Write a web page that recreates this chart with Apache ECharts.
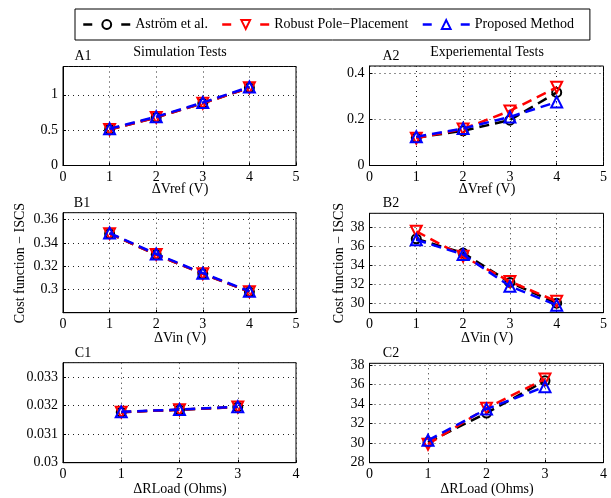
<!DOCTYPE html>
<html>
<head>
<meta charset="utf-8">
<script src="https://cdn.jsdelivr.net/npm/echarts@6/dist/echarts.min.js"></script>
<style>
  html, body { margin: 0; padding: 0; background: #fff; }
  #chart { width: 611px; height: 498px; }
</style>
</head>
<body>
<div id="chart"></div>
<script>
// Test conditions on the horizontal axes
const xVolt = [1, 2, 3, 4];
const xLoad = [1, 2, 3];

// A: reference voltage step
const a1Astrom   = [0.51, 0.68, 0.88, 1.10];
const a1Robust   = [0.51, 0.68, 0.88, 1.10];
const a1Proposed = [0.52, 0.69, 0.89, 1.11];
const a2Astrom   = [0.120, 0.150, 0.196, 0.316];
const a2Robust   = [0.118, 0.158, 0.236, 0.338];
const a2Proposed = [0.124, 0.160, 0.210, 0.274];

// B: input voltage step
const b1Astrom   = [0.348, 0.330, 0.3135, 0.298];
const b1Robust   = [0.348, 0.330, 0.3135, 0.298];
const b1Proposed = [0.3485, 0.3305, 0.314, 0.2985];
const b2Astrom   = [36.8, 35.3, 32.2, 30.0];
const b2Robust   = [37.6, 34.95, 32.3, 30.2];
const b2Proposed = [36.7, 35.15, 31.8, 29.8];

// C: load resistance step
const c1Astrom   = [0.03177, 0.03185, 0.03195];
const c1Robust   = [0.03177, 0.03185, 0.03195];
const c1Proposed = [0.03178, 0.03186, 0.03196];
const c2Astrom   = [30.1, 33.1, 36.4];
const c2Robust   = [29.9, 33.6, 36.6];
const c2Proposed = [30.3, 33.5, 35.8];

const names = ['Aström et al.', 'Robust Pole\u2212Placement', 'Proposed Method'];
const FONT = '"Liberation Serif", "DejaVu Serif", serif';

const grids = [
  { left: 63,    top: 66.5,  width: 233, height: 99 },
  { left: 369.5, top: 66,    width: 234, height: 99.5 },
  { left: 63,    top: 212.7, width: 233, height: 100 },
  { left: 369.5, top: 213.3, width: 234, height: 99.4 },
  { left: 63,    top: 362.7, width: 233, height: 100 },
  { left: 369.5, top: 363.3, width: 234, height: 99.4 }
].map(g => Object.assign({ show: true, borderColor: '#000', borderWidth: 1, backgroundColor: '#fff' }, g));

const dotted = { show: true, lineStyle: { color: '#222', width: 1, type: [1, 4] } };
const axisLabel = { color: '#000', fontFamily: FONT, fontSize: 14, margin: 5 };

function xAx(i, max) {
  return {
    type: 'value', gridIndex: i, min: 0, max: max, interval: 1,
    axisLine: { show: true, lineStyle: { color: '#000', width: 1 } },
    axisTick: { show: true, inside: true, length: 3, lineStyle: { color: '#000' } },
    axisLabel: axisLabel,
    splitLine: dotted
  };
}
function yAx(i, cfg) {
  return Object.assign({
    type: 'value', gridIndex: i,
    axisLine: { show: true, lineStyle: { color: '#000', width: 1 } },
    axisTick: { show: true, inside: true, length: 3, lineStyle: { color: '#000' } },
    axisLabel: Object.assign({ showMaxLabel: false }, axisLabel, cfg.label || {}),
    splitLine: dotted
  }, cfg.axis);
}

const xAxis = [xAx(0, 5), xAx(1, 5), xAx(2, 5), xAx(3, 5), xAx(4, 4), xAx(5, 4)];
const yAxis = [
  yAx(0, { axis: { min: 0, max: 1.4, interval: 0.5 } }),
  yAx(1, { axis: { min: 0, max: 0.43, interval: 0.2 } }),
  yAx(2, { axis: { min: 0.28, max: 0.366, interval: 0.02 }, label: { showMinLabel: false } }),
  yAx(3, { axis: { min: 29, max: 39.5, splitNumber: 5 }, label: { showMinLabel: false } }),
  yAx(4, { axis: { min: 0.03, max: 0.0335, interval: 0.001 } }),
  yAx(5, { axis: { min: 28, max: 38.2, interval: 2 } })
];

const styles = [
  { color: '#000', symbol: 'circle', size: 9, rotate: 0 },
  { color: '#f00', symbol: 'triangle', size: 11, rotate: 180 },
  { color: '#00f', symbol: 'triangle', size: 11, rotate: 0 }
];

function pairs(xs, ys) { return xs.map((x, k) => [x, ys[k]]); }

function mk(i, xs, ys, s) {
  const st = styles[s];
  return {
    type: 'line', name: names[s], xAxisIndex: i, yAxisIndex: i,
    data: pairs(xs, ys),
    symbol: st.symbol, symbolSize: st.size, symbolRotate: st.rotate,
    showAllSymbol: true, animation: false,
    lineStyle: { color: st.color, width: 2.5, type: [10, 6] },
    itemStyle: { color: 'rgba(255,255,255,0)', borderColor: st.color, borderWidth: 2 },
    emphasis: { disabled: true },
    z: 2 + s
  };
}

const panels = [
  [xVolt, a1Astrom, a1Robust, a1Proposed],
  [xVolt, a2Astrom, a2Robust, a2Proposed],
  [xVolt, b1Astrom, b1Robust, b1Proposed],
  [xVolt, b2Astrom, b2Robust, b2Proposed],
  [xLoad, c1Astrom, c1Robust, c1Proposed],
  [xLoad, c2Astrom, c2Robust, c2Proposed]
];
const series = [];
panels.forEach((p, i) => {
  for (let s = 0; s < 3; s++) series.push(mk(i, p[0], p[s + 1], s));
});

function txt(x, y, text, opts) {
  return Object.assign({
    type: 'text', x: x, y: y,
    style: Object.assign({ text: text, fill: '#000', font: '14px ' + FONT, textAlign: 'center', textVerticalAlign: 'middle' }, opts || {})
  });
}

const graphic = [
  txt(83, 56, 'A1'), txt(180, 52, 'Simulation Tests'),
  txt(391, 56, 'A2'), txt(487, 52, 'Experiemental Tests'),
  txt(180, 189, '\u0394Vref (V)'), txt(487, 189, '\u0394Vref (V)'),
  txt(82, 203, 'B1'), txt(391, 203, 'B2'),
  txt(180, 338, '\u0394Vin (V)'), txt(487, 338, '\u0394Vin (V)'),
  txt(83, 353, 'C1'), txt(391, 353, 'C2'),
  txt(180, 489, '\u0394RLoad (Ohms)'), txt(487, 489, '\u0394RLoad (Ohms)'),
  Object.assign(txt(20, 263, 'Cost function \u2212 ISCS'), { rotation: Math.PI / 2 }),
  Object.assign(txt(339, 263, 'Cost function \u2212 ISCS'), { rotation: Math.PI / 2 })
];

const chart = echarts.init(document.getElementById('chart'), null, { renderer: 'canvas' });
chart.setOption({
  animation: false,
  backgroundColor: '#fff',
  legend: {
    left: 75, top: 9,
    orient: 'horizontal',
    data: names,
    itemWidth: 47, itemHeight: 11, itemGap: 13,
    padding: [8.5, 16, 8.5, 7],
    borderColor: '#000', borderWidth: 1,
    textStyle: { color: '#000', fontFamily: FONT, fontSize: 14 },
    lineStyle: { type: [9, 29], width: 2.5 },
    selectedMode: false
  },
  grid: grids,
  xAxis: xAxis,
  yAxis: yAxis,
  series: series,
  graphic: graphic
});
</script>
</body>
</html>
